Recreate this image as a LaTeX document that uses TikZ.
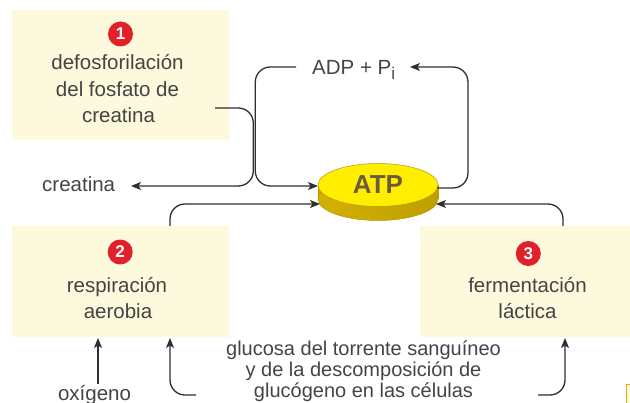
\documentclass[tikz,border=0pt]{standalone}
\usepackage{fontspec}
\setmainfont{Liberation Sans}
\usetikzlibrary{arrows.meta,shapes.geometric}
\definecolor{boxfill}{HTML}{FDF9DC}
\definecolor{ink}{HTML}{2E2E2E}
\definecolor{txt}{HTML}{444444}
\definecolor{badgered}{HTML}{E2202A}
\definecolor{coinface}{HTML}{FFEE00}
\definecolor{coinedge}{HTML}{B9960A}
\definecolor{coindark}{HTML}{D4B000}
\definecolor{coinrim}{HTML}{F5DC00}
\definecolor{atptext}{HTML}{6E5A3C}
\definecolor{tabedge}{HTML}{F7A11A}

\begin{document}
\begin{tikzpicture}[x=1pt,y=-1pt,
  every node/.style={inner sep=0pt},
  label/.style={font=\fontsize{20.5}{27}\selectfont, text=txt, anchor=base},
  stepbox/.style={rectangle, fill=boxfill, draw=none},
  badge/.style={circle, fill=badgered, minimum size=25pt,
                text=white, font=\fontsize{17}{17}\selectfont\bfseries},
  conn/.style={draw=ink, line width=1.3pt, rounded corners=15pt},
  tip/.style={-{Stealth[length=10pt,width=8pt,inset=2.5pt]}},
]
\useasboundingbox (0,0) rectangle (630,403);

% process boxes
\node[stepbox, minimum width=217pt, minimum height=130pt] (box1) at (120.5,75) {};
\node[stepbox, minimum width=217pt, minimum height=111pt] (box2) at (120.5,281.5) {};
\node[stepbox, minimum width=210pt, minimum height=111pt] (box3) at (525,281.5) {};

% numbered badges
\node[badge] (n1) at (120.5,34) {1};
\node[badge] (n2) at (120.2,252) {2};
\node[badge] (n3) at (528.3,253.5) {3};

% box captions
\node[label] (t1a) at (117.5,70) {defosforilación};
\node[label] (t1b) at (117.5,97) {del fosfato de};
\node[label] (t1c) at (118.5,123) {creatina};
\node[label] (t2a) at (117,292.5) {respiración};
\node[label] (t2b) at (118,319) {aerobia};
\node[label] (t3a) at (527.5,293) {fermentación};
\node[label] (t3b) at (527.5,319) {láctica};

% free labels
\node[label, anchor=base west] (creat) at (42,192) {creatina};
\node[label, anchor=base west] (adp) at (312,75)
  {ADP + P\raisebox{-5pt}{\fontsize{17}{17}\selectfont i}};
\node[label] (oxi) at (94.5,400.5) {oxígeno};
\node[label, font=\fontsize{20}{21}\selectfont] (glu1) at (363.5,356) {glucosa del torrente sanguíneo};
\node[label, font=\fontsize{20}{21}\selectfont] (glu2) at (363.5,377) {y de la descomposición de};
\node[label, font=\fontsize{20}{21}\selectfont] (glu3) at (363.5,398) {glucógeno en las células};

% ATP coin: rim with shading, then the top face
\shade[left color=coindark, middle color=coinrim, right color=coindark!90!black]
  (318,185) rectangle (438,199)
  (378,199) ellipse [x radius=60pt, y radius=21.5pt];
\draw[coinedge, line width=0.5pt] (378,199) ellipse [x radius=60pt, y radius=21.5pt];
\draw[coinedge, line width=0.5pt] (318,185) -- (318,199) (438,185) -- (438,199);
\node[ellipse, fill=coinface, draw=coinedge, line width=0.5pt,
      minimum width=120pt, minimum height=43pt, text=atptext,
      font=\fontsize{26}{26}\selectfont\bfseries] (atp) at (378,185) {ATP};

% connector end points
\coordinate (b1out) at (215,108);
\coordinate (creattip) at (131,186);
\coordinate (adpleft) at (296,67);
\coordinate (adptip) at (410,67);
\coordinate (atpinA) at (318,186);
\coordinate (atpout) at (437,188);
\coordinate (atpinB) at (320,204);
\coordinate (atpinC) at (436,204);
\coordinate (b2top) at (170,226);
\coordinate (b3top) at (563,226);
\coordinate (oxtop) at (98,384);
\coordinate (b2inA) at (98,338);
\coordinate (b2inB) at (170,338);
\coordinate (b3in) at (565,338);
\coordinate (gluL) at (196,395);
\coordinate (gluR) at (538,395);

% reaction arrows
\draw[conn, tip] (b1out) -- (253.3,108) -- (253.3,186) -- (creattip);
\draw[conn, tip] (adpleft) -- (255.3,67) -- (255.3,186) -- (atpinA);
\draw[conn, tip] (atpout) -- (468,188) -- (468,67) -- (adptip);
\draw[conn, tip] (b2top) -- (170,204) -- (atpinB);
\draw[conn, tip] (b3top) -- (563,204) -- (atpinC);
\draw[conn, tip] (oxtop) -- (b2inA);
\draw[conn, tip] (gluL) -- (170,395) -- (b2inB);
\draw[conn, tip] (gluR) -- (565,395) -- (b3in);

% edge tab at the lower right
\fill[boxfill] (627,385) rectangle (630,403);
\draw[tabedge, line width=1.5pt] (630,384.5) -- (626.5,384.5) -- (626.5,403);
\end{tikzpicture}
\end{document}
